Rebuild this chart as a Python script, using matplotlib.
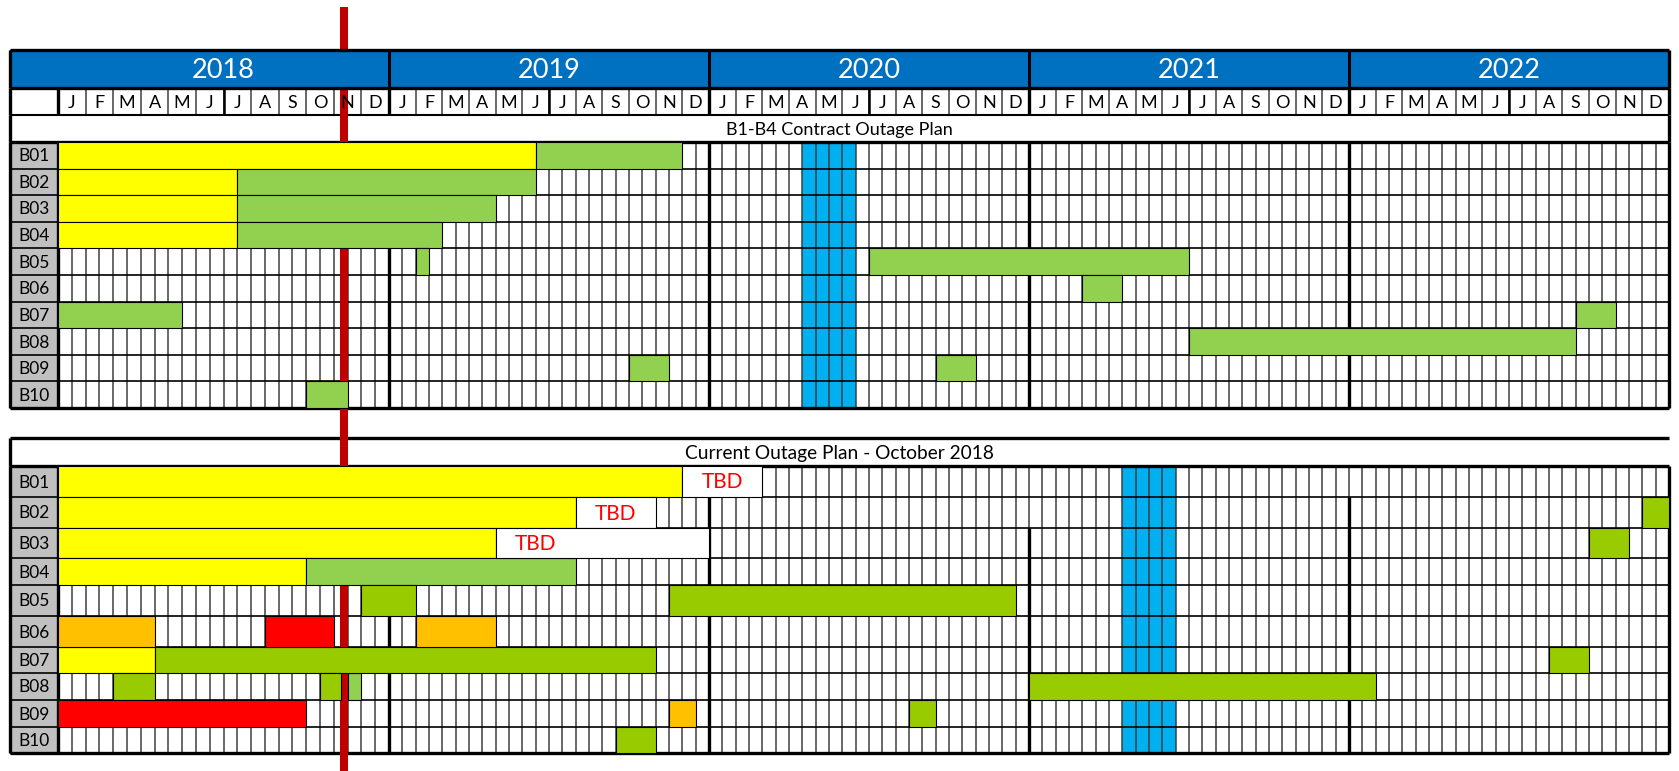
import numpy as np
import matplotlib.pyplot as plt
from matplotlib.patches import Rectangle

plt.rcParams['font.family'] = ['Lato', 'DejaVu Sans']

# ---- data (months counted from Jan 2018 = 0, end of Dec 2022 = 60) ----
years = [2018, 2019, 2020, 2021, 2022]
month_letters = ['J', 'F', 'M', 'A', 'M', 'J', 'J', 'A', 'S', 'O', 'N', 'D']
units = ['B01', 'B02', 'B03', 'B04', 'B05', 'B06', 'B07', 'B08', 'B09', 'B10']

contract_title = 'B1-B4 Contract Outage Plan'
contract_yellow = [('B01', 0, 17.5), ('B02', 0, 6.5), ('B03', 0, 6.5), ('B04', 0, 6.5)]
contract_green = [('B01', 17.5, 23), ('B02', 6.5, 17.5), ('B03', 6.5, 16), ('B04', 6.5, 14),
                  ('B05', 13, 13.5), ('B05', 30, 42), ('B06', 38, 39.5), ('B07', 0, 4.5),
                  ('B07', 56.5, 58), ('B08', 42, 56.5), ('B09', 21, 22.5), ('B09', 32.5, 34),
                  ('B10', 9, 10.5)]
contract_window = (27.5, 29.5)

current_title = 'Current Outage Plan - October 2018'
current_yellow = [('B01', 0, 23), ('B02', 0, 19), ('B03', 0, 16), ('B04', 0, 9), ('B07', 0, 3.5)]
current_tbd = [('B01', 23, 26), ('B02', 19, 22), ('B03', 16, 24)]
current_light_green = [('B04', 9, 19), ('B08', 10.5, 11)]
current_green = [('B02', 59, 60), ('B03', 57, 58.5), ('B05', 11, 13), ('B05', 22.5, 35.5),
                 ('B07', 3.5, 22), ('B07', 55.5, 57), ('B08', 2, 3.5), ('B08', 9.5, 10.25),
                 ('B08', 36, 49), ('B09', 31.5, 32.5), ('B10', 20.5, 22)]
current_orange = [('B06', 0, 3.5), ('B06', 13, 16), ('B09', 22.5, 23.5)]
current_red = [('B06', 7.5, 10), ('B09', 0, 9)]
current_window = (39.5, 41.5)

status_month = 10.37

# ---- colours ----
YELLOW = '#FFFF00'
LGREEN = '#92D050'
DGREEN = '#99CC00'
ORANGE = '#FFC000'
RED = '#FF0000'
WINDOW = '#00B0F0'
HEADER = '#0070C0'
GRAY = '#C0C0C0'
GRID = '#404040'

# ---- canvas: x in months (piecewise scale, 2018 column is a bit wider), y in pixels ----
W, H = 1679, 771
fig = plt.figure(figsize=(W / 100, H / 100), dpi=100)
ax = fig.add_axes([0, 0, 1, 1])
mk = [-3, 0, 12, 60, 61]
pk = [58 - 3 * 27.58, 58, 389, 1669, 1669 + 26.67]
fwd = lambda m: np.interp(m, mk, pk)
inv = lambda p: np.interp(p, pk, mk)
ax.set_xscale('function', functions=(fwd, inv))
ax.set_xlim(float(inv(0)), float(inv(W)))
ax.set_ylim(H, 0)
ax.axis('off')

LEFT = float(inv(10))
END = 60
MID = float(inv((10 + 1669) / 2))

top_year = (50, 88)
top_month = (88, 115)
top_title = (115, 142)
top_rows = 142 + 26.6 * np.arange(11)
bot_title = (438, 466)
bot_rows = np.array([466, 497, 528, 558, 585, 616, 647, 673, 700, 727, 753])


def rect(x0, x1, y0, y1, **kw):
    ax.add_patch(Rectangle((x0, y0), x1 - x0, y1 - y0, **kw))


def draw_table(rows, window, thick_from, bar_sets, tbd):
    idx = {u: i for i, u in enumerate(units)}
    # label column
    for i, u in enumerate(units):
        rect(LEFT, 0, rows[i], rows[i + 1], fc=GRAY, ec='none', zorder=1)
        ax.text((LEFT + 0) / 2, (rows[i] + rows[i + 1]) / 2 + 1, u, ha='center', va='center',
                fontsize=12.5, zorder=6)
    rect(window[0], window[1], rows[0], rows[-1], fc=WINDOW, ec='none', zorder=1)
    # grid
    ax.vlines(np.arange(0.5, 60, 0.5), rows[0], rows[-1], color=GRID, lw=1.1, zorder=2)
    ax.hlines(rows, LEFT, END, color='black', lw=1.2, zorder=2)
    for m, r in zip([12, 24, 36, 48], thick_from):
        ax.vlines(m, rows[r], rows[-1], color='black', lw=2.4, zorder=2.5)
    ax.vlines([LEFT, 0, END], rows[0], rows[-1], color='black', lw=2.4, zorder=2.5)
    ax.hlines([rows[0], rows[-1]], LEFT, END, color='black', lw=2.4, zorder=2.5)
    # bars
    for bars, color in bar_sets:
        for u, s, e in bars:
            rect(s, e, rows[idx[u]], rows[idx[u] + 1], fc=color, ec='black', lw=0.8, zorder=4)
    for u, s, e in tbd:
        i = idx[u]
        rect(s, e, rows[i], rows[i + 1], fc='white', ec='black', lw=0.8, zorder=4)
        ax.text(s + 1.5, (rows[i] + rows[i + 1]) / 2 + 1, 'TBD', color=RED, ha='center',
                va='center', fontsize=15, zorder=6)


# year header
rect(LEFT, END, top_year[0], top_year[1], fc=HEADER, ec='none', zorder=5)
ax.vlines([12, 24, 36, 48], top_year[0], top_year[1], color='black', lw=2.2, zorder=5.5)
ax.vlines([LEFT, END], top_year[0], top_year[1], color='black', lw=2.4, zorder=5.5)
ax.hlines([top_year[0], top_year[1]], LEFT, END, color='black', lw=2.4, zorder=5.5)
for k, y in enumerate(years):
    ax.text(12 * k + 6, sum(top_year) / 2 + 1, str(y), color='white', ha='center',
            va='center', fontsize=19.5, zorder=6)

# month row
rect(LEFT, END, top_month[0], top_month[1], fc='white', ec='none', zorder=1)
ax.vlines(np.arange(0, 61), top_month[0], top_month[1], color=GRID, lw=1.1, zorder=2)
ax.vlines(np.arange(6, 60, 12), top_month[0], top_month[1], color='black', lw=1.8, zorder=2.5)
ax.vlines([LEFT, 0, 12, 24, 36, 48, END], top_month[0], top_month[1], color='black',
          lw=2.4, zorder=2.5)
ax.hlines(top_month[1], LEFT, END, color='black', lw=1.5, zorder=2.5)
for k in range(len(years)):
    for j, letter in enumerate(month_letters):
        ax.text(12 * k + j + 0.5, sum(top_month) / 2 + 1, letter, ha='center', va='center',
                fontsize=13, zorder=6)

# titles
rect(LEFT, END, top_title[0], top_title[1], fc='white', ec='none', zorder=1)
ax.vlines([LEFT, END], top_title[0], top_title[1], color='black', lw=2.4, zorder=2.5)
ax.text(MID, sum(top_title) / 2 + 1, contract_title, ha='center', va='center',
        fontsize=13, zorder=6)
ax.hlines(bot_title[0], LEFT, END, color='black', lw=2.4, zorder=2.5)
ax.vlines(LEFT, bot_title[0], bot_title[1], color='black', lw=2.4, zorder=2.5)
ax.text(MID, sum(bot_title) / 2 + 1, current_title, ha='center', va='center',
        fontsize=13.8, zorder=6)

draw_table(top_rows, contract_window, [0, 0, 0, 0],
           [(contract_yellow, YELLOW), (contract_green, LGREEN)], [])
draw_table(bot_rows, current_window, [5, 1, 2, 1],
           [(current_yellow, YELLOW), (current_light_green, LGREEN), (current_green, DGREEN),
            (current_orange, ORANGE), (current_red, RED)], current_tbd)

# status date line
ax.plot([status_month, status_month], [7, H], color='#C00000', lw=5.8,
        solid_capstyle='butt', zorder=3)

fig.savefig('out.png', dpi=100, facecolor='white')
